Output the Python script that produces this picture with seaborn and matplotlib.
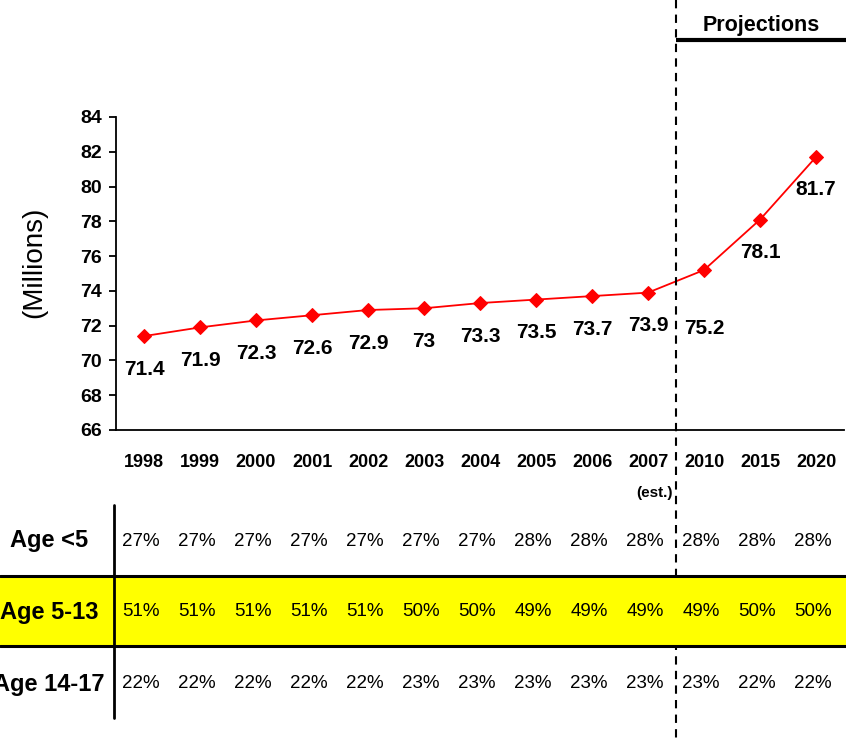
import matplotlib
matplotlib.use("Agg")
import matplotlib.pyplot as plt
import seaborn as sns
import pandas as pd
import numpy as np
from matplotlib.patches import Rectangle

years = ["1998", "1999", "2000", "2001", "2002", "2003", "2004",
         "2005", "2006", "2007", "2010", "2015", "2020"]
population = [71.4, 71.9, 72.3, 72.6, 72.9, 73.0, 73.3, 73.5, 73.7, 73.9, 75.2, 78.1, 81.7]
point_labels = ["71.4", "71.9", "72.3", "72.6", "72.9", "73", "73.3",
                "73.5", "73.7", "73.9", "75.2", "78.1", "81.7"]
row_names = ["Age <5", "Age 5-13", "Age 14-17"]
age_lt5 = [27, 27, 27, 27, 27, 27, 27, 28, 28, 28, 28, 28, 28]
age_5_13 = [51, 51, 51, 51, 51, 50, 50, 49, 49, 49, 49, 50, 50]
age_14_17 = [22, 22, 22, 22, 22, 23, 23, 23, 23, 23, 23, 22, 22]

sns.set_theme(style="white")
plt.rcParams['font.family'] = ['Liberation Sans', 'DejaVu Sans']
for k in ["text.color", "axes.labelcolor", "xtick.color", "ytick.color"]:
    plt.rcParams[k] = "black"

W, H = 846, 741
fig = plt.figure(figsize=(W / 100, H / 100), dpi=100)
ax = fig.add_axes([116 / W, 1 - 430 / H, 728 / W, (430 - 117) / H])

df = pd.DataFrame({"pos": np.arange(len(years)), "pop": population})
sns.lineplot(data=df, x="pos", y="pop", ax=ax, color="#FF0000", lw=1.3,
             marker="D", markersize=7, markeredgecolor="#FF0000")

ax.set_xlim(-0.5, len(years) - 0.5)
ax.set_ylim(66, 84)
ax.set_yticks(np.arange(66, 85, 2))
ax.set_xticks(np.arange(len(years)))
ax.set_xticklabels(years, fontweight="bold", fontsize=13)
for t in ax.get_yticklabels():
    t.set_fontweight("bold")
    t.set_fontsize(14)
ax.tick_params(axis="x", length=0, pad=17)
ax.tick_params(axis="y", length=5, width=1.3, direction="out", pad=5, left=True)
ax.set_xlabel("")
ax.set_ylabel("(Millions)", fontsize=20)
ax.yaxis.set_label_coords(-0.094, 0.535)
for s in ["top", "right"]:
    ax.spines[s].set_visible(False)
for s in ["left", "bottom"]:
    ax.spines[s].set_color("black")
    ax.spines[s].set_linewidth(1.3)

for i, (v, lab) in enumerate(zip(population, point_labels)):
    off = -58 if years[i] == "2010" else -33
    ax.annotate(lab, (i, v), xytext=(0, off * 0.72), textcoords="offset points",
                ha="center", va="center", fontsize=15, fontweight="bold")

# overlay axes in pixel space for vertical, mapped x to categories
ov = fig.add_axes([0, 0, 1, 1], facecolor="none")
ov.axis("off")
px_per_cat = 728 / len(years)
x0 = -0.5 - 116 / px_per_cat
x1 = x0 + W / px_per_cat
ov.set_xlim(x0, x1)
ov.set_ylim(H, 0)

split = 9.5
ov.plot([split, split], [0, H], color="black", lw=1.5, ls=(0, (4, 3)), zorder=1)
ov.plot([split, x1], [40, 40], color="black", lw=3, zorder=3, solid_capstyle="butt")
ov.text((split + x1) / 2, 25, "Projections", ha="center", va="center",
        fontsize=15.5, fontweight="bold")
ov.text(9.45, 493, "(est.)", ha="right", va="center", fontsize=11, fontweight="bold")

ov.add_patch(Rectangle((x0, 576), x1 - x0, 70, facecolor="#FFFF00", edgecolor="none", zorder=2))
ov.plot([x0, x1], [576, 576], color="black", lw=2.2, zorder=3)
ov.plot([x0, x1], [646, 646], color="black", lw=2.2, zorder=3)
xl = -0.5 - 2 / px_per_cat
ov.plot([xl, xl], [505, 718], color="black", lw=2, zorder=4)

row_y = [541, 612, 684]
label_x = x0 + 49 / px_per_cat
for name, ry, vals in zip(row_names, row_y, [age_lt5, age_5_13, age_14_17]):
    ov.text(label_x, ry, name, ha="center", va="center", fontsize=17,
            fontweight="bold", zorder=5)
    for i, v in enumerate(vals):
        ov.text(i - 0.05, ry, f"{v}%", ha="center", va="center", fontsize=13.5, zorder=5)

fig.savefig("out.png", dpi=100)
